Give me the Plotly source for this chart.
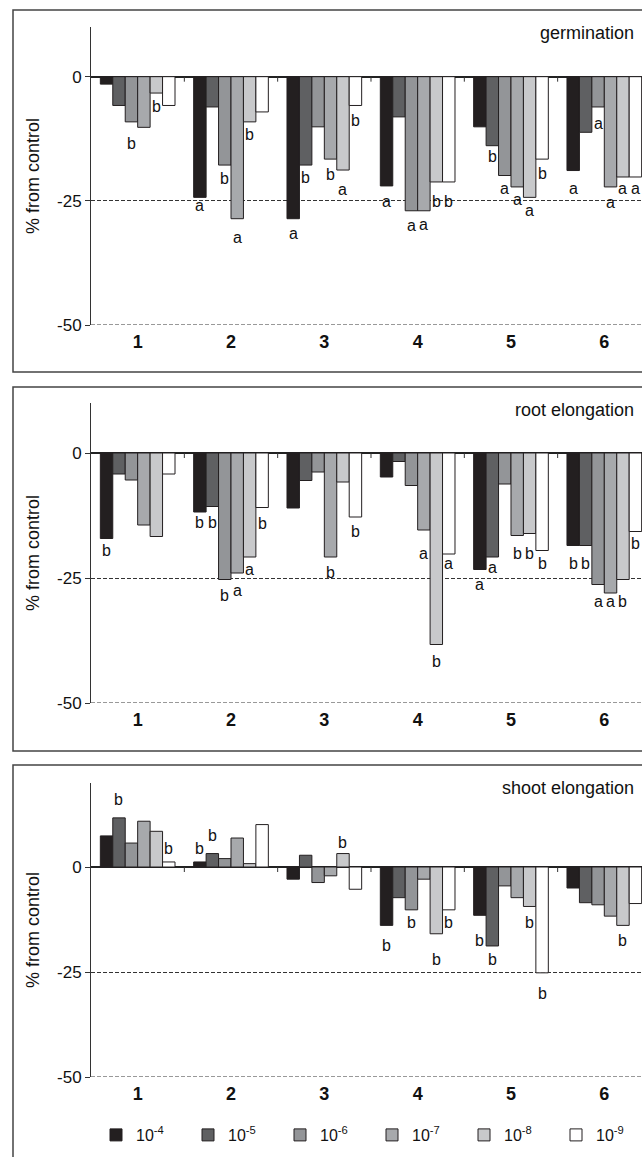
import plotly.graph_objects as go

# ---------------- data ----------------
categories = ["1", "2", "3", "4", "5", "6"]
concentrations = ["10<sup>-4</sup>", "10<sup>-5</sup>", "10<sup>-6</sup>",
                  "10<sup>-7</sup>", "10<sup>-8</sup>", "10<sup>-9</sup>"]

# germination (% from control)
germ_e4 = [-1.5, -24.3, -28.6, -22.0, -10.1, -18.9]
germ_e5 = [-5.8, -6.1, -17.8, -8.1, -13.9, -11.2]
germ_e6 = [-9.1, -17.8, -10.1, -27.0, -19.9, -6.1]
germ_e7 = [-10.2, -28.6, -16.6, -27.0, -22.2, -22.2]
germ_e8 = [-3.3, -9.1, -18.8, -21.2, -24.3, -20.2]
germ_e9 = [-5.8, -7.1, -5.8, -21.2, -16.6, -20.2]

# root elongation
root_e4 = [-17.1, -11.8, -11.0, -4.8, -23.3, -18.5]
root_e5 = [-4.2, -10.7, -5.5, -1.7, -20.8, -18.5]
root_e6 = [-5.4, -25.3, -3.8, -6.5, -6.2, -26.3]
root_e7 = [-14.4, -24.0, -20.8, -15.4, -16.5, -28.0]
root_e8 = [-16.7, -20.8, -5.8, -38.3, -16.1, -25.3]
root_e9 = [-4.2, -10.9, -12.8, -20.2, -19.5, -15.7]

# shoot elongation
shoot_e4 = [7.4, 1.2, -2.9, -13.9, -11.5, -5.0]
shoot_e5 = [11.7, 3.2, 2.8, -7.3, -18.8, -8.5]
shoot_e6 = [5.7, 2.0, -3.7, -10.2, -4.5, -9.0]
shoot_e7 = [10.9, 6.9, -2.1, -2.9, -7.3, -11.7]
shoot_e8 = [8.5, 0.8, 3.2, -15.9, -9.4, -13.9]
shoot_e9 = [1.2, 10.1, -5.3, -10.2, -25.2, -8.7]

# significance letters and the value at which each letter sits
germ_let_e4 = ["", "a", "a", "a", "", "a"]
germ_let_e5 = ["", "", "b", "", "b", ""]
germ_let_e6 = ["b", "b", "", "a", "a", "a"]
germ_let_e7 = ["", "a", "b", "a", "a", "a"]
germ_let_e8 = ["b", "b", "a", "b", "a", "a"]
germ_let_e9 = ["", "", "b", "b", "b", "a"]
germ_lab_e4 = [None, -25.9, -31.6, -25.2, None, -22.5]
germ_lab_e5 = [None, None, -20.4, None, -16.0, None]
germ_lab_e6 = [-13.4, -20.5, None, -30.0, -22.5, -9.4]
germ_lab_e7 = [None, -32.3, -19.7, -29.8, -24.7, -25.3]
germ_lab_e8 = [-6.1, -11.6, -22.7, -25.2, -27.0, -22.5]
germ_lab_e9 = [None, None, -8.8, -25.2, -19.4, -22.5]

root_let_e4 = ["b", "b", "", "", "a", "b"]
root_let_e5 = ["", "b", "", "", "a", "b"]
root_let_e6 = ["", "b", "", "", "", "a"]
root_let_e7 = ["", "a", "b", "a", "b", "a"]
root_let_e8 = ["", "a", "", "b", "b", "b"]
root_let_e9 = ["", "b", "b", "a", "b", "b"]
root_lab_e4 = [-19.4, -13.9, None, None, -26.3, -22.0]
root_lab_e5 = [None, -13.9, None, None, -22.8, -22.0]
root_lab_e6 = [None, -28.4, None, None, None, -29.7]
root_lab_e7 = [None, -27.4, -23.9, -20.0, -20.0, -29.7]
root_lab_e8 = [None, -23.3, None, -41.7, -20.0, -29.7]
root_lab_e9 = [None, -14.0, -15.6, -22.0, -22.0, -18.1]

shoot_let_e4 = ["", "b", "", "b", "b", ""]
shoot_let_e5 = ["b", "b", "", "", "b", ""]
shoot_let_e6 = ["", "", "", "b", "", ""]
shoot_let_e7 = ["", "", "", "", "", ""]
shoot_let_e8 = ["", "", "b", "b", "b", "b"]
shoot_let_e9 = ["b", "", "", "b", "b", ""]
shoot_lab_e4 = [None, 4.4, None, -18.8, -17.5, None]
shoot_lab_e5 = [16.0, 7.4, None, None, -22.1, None]
shoot_lab_e6 = [None, None, None, -13.3, None, None]
shoot_lab_e7 = [None, None, None, None, None, None]
shoot_lab_e8 = [None, None, 5.8, -22.1, -13.3, -17.5]
shoot_lab_e9 = [4.4, None, None, -13.3, -30.2, None]

panel_titles = ["germination", "root elongation", "shoot elongation"]
y_ticks = [-50, -25, 0]

panels = [
    dict(vals=[germ_e4, germ_e5, germ_e6, germ_e7, germ_e8, germ_e9],
         lets=[germ_let_e4, germ_let_e5, germ_let_e6, germ_let_e7, germ_let_e8, germ_let_e9],
         labs=[germ_lab_e4, germ_lab_e5, germ_lab_e6, germ_lab_e7, germ_lab_e8, germ_lab_e9],
         yrange=[-50, 10]),
    dict(vals=[root_e4, root_e5, root_e6, root_e7, root_e8, root_e9],
         lets=[root_let_e4, root_let_e5, root_let_e6, root_let_e7, root_let_e8, root_let_e9],
         labs=[root_lab_e4, root_lab_e5, root_lab_e6, root_lab_e7, root_lab_e8, root_lab_e9],
         yrange=[-50, 10]),
    dict(vals=[shoot_e4, shoot_e5, shoot_e6, shoot_e7, shoot_e8, shoot_e9],
         lets=[shoot_let_e4, shoot_let_e5, shoot_let_e6, shoot_let_e7, shoot_let_e8, shoot_let_e9],
         labs=[shoot_lab_e4, shoot_lab_e5, shoot_lab_e6, shoot_lab_e7, shoot_lab_e8, shoot_lab_e9],
         yrange=[-50, 20]),
]

# ---------------- style / layout ----------------
W, H = 642, 1157
FONT = "Liberation Sans, Arial, sans-serif"
colors = ["#231f20", "#5f6062", "#939598", "#a7a9ac", "#c8c9cb", "#ffffff"]
edge = "#231f20"
axis_col = "#333333"

plot_left_px = 91
cat_px = 93.33
# plot-area pixel extents (top, bottom) of each panel's y axis
panel_px = [(27, 325), (403, 703), (783, 1077)]
box_px = [(10, 372), (387, 751), (765, 1200)]
title_y_px = [33, 410, 788]

BARGAP = 0.2
n_series = len(concentrations)
bar_w = (1 - BARGAP) / n_series

def px_x(p):
    return p / W

def px_y(p):
    return 1 - p / H

x_range = [-0.5, -0.5 + (W - plot_left_px) / cat_px]
x_idx = list(range(len(categories)))

fig = go.Figure()
annotations = []
shapes = []

for pi, panel in enumerate(panels):
    sfx = "" if pi == 0 else str(pi + 1)
    xa, ya = "x" + sfx, "y" + sfx
    for si in range(n_series):
        fig.add_trace(go.Bar(
            x=x_idx, y=panel["vals"][si], name=concentrations[si],
            xaxis=xa, yaxis=ya,
            marker=dict(color=colors[si], line=dict(color=edge, width=1)),
            showlegend=(pi == 2), legendgroup=str(si),
            hoverinfo="skip",
        ))
        off = -(1 - BARGAP) / 2 + bar_w * (si + 0.5)
        for ci in x_idx:
            letter = panel["lets"][si][ci]
            if letter:
                annotations.append(dict(
                    x=ci + off, y=panel["labs"][si][ci], xref=xa, yref=ya,
                    text=letter, showarrow=False, xanchor="center", yanchor="middle",
                    font=dict(family=FONT, size=16, color="#111111"),
                ))
    top, bot = panel_px[pi]
    dom = [px_y(bot), px_y(top)]
    fig.layout["xaxis" + sfx] = dict(
        domain=[px_x(plot_left_px), 1], range=x_range, anchor=ya,
        tickvals=x_idx, ticktext=["<b>%s</b>" % c for c in categories],
        ticks="", showline=False, showgrid=False, zeroline=False,
        tickfont=dict(family=FONT, size=18, color="#111111"),
        ticklabelstandoff=4, fixedrange=True, automargin=False,
    )
    fig.layout["yaxis" + sfx] = dict(
        domain=dom, range=panel["yrange"], anchor=xa,
        tickvals=y_ticks, ticktext=[str(t) for t in y_ticks],
        ticks="outside", ticklen=5, tickcolor=axis_col, tickwidth=1,
        showline=True, linecolor=axis_col, linewidth=1,
        showgrid=True, gridcolor=axis_col, gridwidth=1, griddash="4px,2px",
        zeroline=True, zerolinecolor="#222222", zerolinewidth=1.5,
        tickfont=dict(family=FONT, size=17, color="#111111"),
        fixedrange=True, automargin=False,
    )
    # dashed reference line at the bottom of the value axis (-50)
    shapes.append(dict(type="line", xref=xa + " domain", yref=ya, x0=0, x1=1,
                       y0=panel["yrange"][0], y1=panel["yrange"][0],
                       line=dict(color=axis_col, width=1, dash="4px,2px"), layer="below"))
    # small category separator ticks on the zero line
    for k in range(len(categories) - 1):
        shapes.append(dict(type="line", xref=xa, yref=ya, x0=k + 0.5, x1=k + 0.5,
                           ysizemode="pixel", yanchor=0, y0=0, y1=-5,
                           line=dict(color=axis_col, width=1)))
    # panel frame
    b0, b1 = box_px[pi]
    shapes.append(dict(type="rect", xref="paper", yref="paper",
                       x0=px_x(13), x1=px_x(720), y0=px_y(b1), y1=px_y(b0),
                       line=dict(color="#444444", width=1.5), fillcolor="rgba(0,0,0,0)",
                       layer="above"))
    # panel title
    annotations.append(dict(x=px_x(636), y=px_y(title_y_px[pi]), xref="paper", yref="paper",
                            text=panel_titles[pi], showarrow=False,
                            xanchor="right", yanchor="middle",
                            font=dict(family=FONT, size=18, color="#111111")))
    # y axis title
    annotations.append(dict(x=px_x(33), y=(dom[0] + dom[1]) / 2, xref="paper", yref="paper",
                            text="% from control", textangle=-90, showarrow=False,
                            xanchor="center", yanchor="middle",
                            font=dict(family=FONT, size=18, color="#111111")))

fig.update_layout(
    width=W, height=H, margin=dict(l=0, r=0, t=0, b=0, autoexpand=False),
    paper_bgcolor="white", plot_bgcolor="white",
    barmode="group", bargap=BARGAP, bargroupgap=0,
    annotations=annotations, shapes=shapes,
    showlegend=True,
    legend=dict(orientation="h", xref="container", yref="container",
                x=px_x(96), y=px_y(1135), xanchor="left", yanchor="middle",
                entrywidth=47, entrywidthmode="pixels", traceorder="normal",
                font=dict(family=FONT, size=16, color="#111111"),
                bgcolor="rgba(0,0,0,0)", itemclick=False, itemdoubleclick=False),
    font=dict(family=FONT),
)

fig.write_html("out.html", config={"displayModeBar": False},
               post_script="document.body.style.margin='0';document.body.style.overflow='hidden';")
